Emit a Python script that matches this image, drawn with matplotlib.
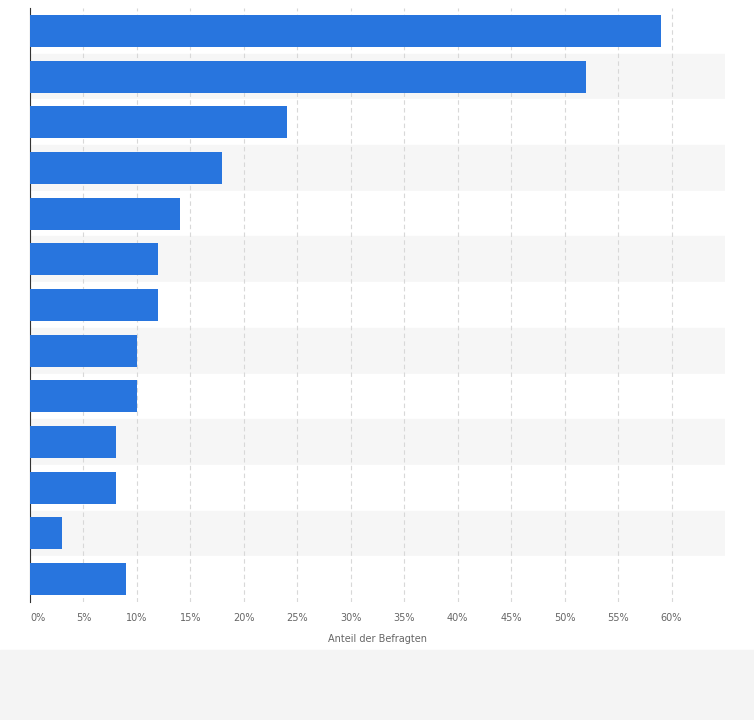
import matplotlib
matplotlib.use("Agg")
import matplotlib.pyplot as plt
from matplotlib.patches import Rectangle

categories = ["A", "B", "C", "D", "E", "F", "G", "H", "I", "J", "K", "L", "M"]
values = [59, 52, 24, 18, 14, 12, 12, 10, 10, 8, 8, 3, 9]
ticks = list(range(0, 65, 5))
tick_labels = [f"{t}%" for t in ticks]

fig = plt.figure(figsize=(7.54, 7.20), dpi=100, facecolor="white")
fig.patches.append(Rectangle((0, 0), 1, 70/720, transform=fig.transFigure, color="#f4f4f4", zorder=-1))
ax = fig.add_axes([30/754, 1-602/720, 695/754, 594/720])
n = len(values)
ypos = list(range(n))
for i in ypos:
    ax.axhspan(i-0.5, i+0.5, color="#ffffff" if i % 2 == 0 else "#f6f6f6", zorder=0)
ax.barh(ypos, values, height=0.7, color="#2875de", zorder=3)
ax.set_ylim(n-0.5, -0.5)
ax.set_xlim(0, 65)
ax.set_xticks(ticks)
ax.set_xticklabels(tick_labels, fontsize=7, color="#666666")
ax.get_xticklabels()[0].set_horizontalalignment("left")
ax.set_yticks([])
ax.grid(axis="x", color="#d8d8d8", linestyle=(0, (4, 3)), linewidth=0.8, zorder=1)
ax.tick_params(axis="x", length=0, pad=8)
for s in ["top", "right", "bottom"]:
    ax.spines[s].set_visible(False)
ax.spines["left"].set_color("#333333")
ax.set_xlabel("Anteil der Befragten", fontsize=7, color="#666666", labelpad=8)
fig.savefig("out.png", dpi=100, facecolor=fig.get_facecolor())
